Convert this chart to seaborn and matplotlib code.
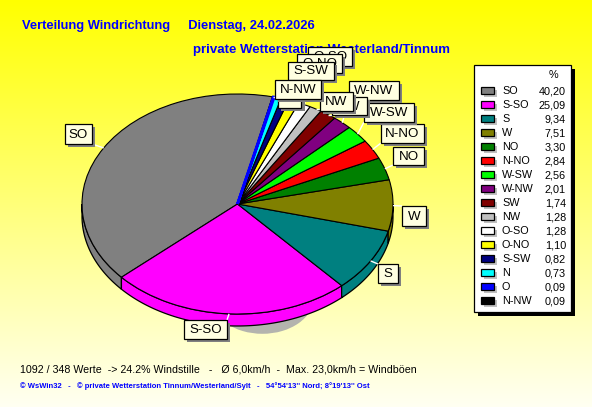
import numpy as np
import matplotlib
matplotlib.use("Agg")
import matplotlib.pyplot as plt
from matplotlib.patches import Rectangle, Polygon
import seaborn as sns

directions = ["SO", "S-SO", "S", "W", "NO", "N-NO", "W-SW", "W-NW", "SW", "NW",
              "O-SO", "O-NO", "S-SW", "N", "O", "N-NW"]
shares = [40.20, 25.09, 9.34, 7.51, 3.30, 2.84, 2.56, 2.01, 1.74, 1.28,
          1.28, 1.10, 0.82, 0.73, 0.09, 0.09]
share_labels = ["40,20", "25,09", "9,34", "7,51", "3,30", "2,84", "2,56", "2,01", "1,74", "1,28",
                "1,28", "1,10", "0,82", "0,73", "0,09", "0,09"]
slice_colors = ["#808080", "#FF00FF", "#008080", "#808000", "#008000", "#FF0000", "#00FF00", "#800080",
                "#800000", "#C0C0C0", "#FFFFFF", "#FFFF00", "#000080", "#00FFFF", "#0000FF", "#000000"]
# label boxes: left, top, right, bottom in pixels
label_boxes = [(65, 124, 92, 144), (184, 320, 227, 339), (378, 264, 398, 283), (402, 206, 426, 226),
               (393, 147, 424, 165), (381, 124, 424, 143), (364, 103, 414, 122), (349, 81, 399, 100),
               (332, 97, 367, 115), (320, 92, 353, 111), (308, 47, 352, 66), (297, 54, 342, 73),
               (288, 62, 334, 80), (280, 90, 302, 108), (278, 90, 301, 108), (275, 80, 321, 99)]

W, H = 592, 407
CX, CY, RX, RY, DEPTH = 237.5, 204, 155.5, 110, 12
START = 77

sns.set_theme(style="white")
plt.rcParams["font.family"] = ["Liberation Sans", "DejaVu Sans"]
palette = sns.color_palette(slice_colors)

fig = plt.figure(figsize=(W / 100, H / 100), dpi=100)

# background and plain texts
bg = fig.add_axes([0, 0, 1, 1], zorder=0)
bg.set_xlim(0, W); bg.set_ylim(H, 0); bg.axis("off")
grad = np.ones((H, 1, 3))
grad[:, 0, 2] = np.linspace(0, 0.95, H)
bg.imshow(grad, extent=(0, W, H, 0), aspect="auto", zorder=0)
bg.set_xlim(0, W); bg.set_ylim(H, 0)
blue = "#0000FF"
bg.text(22, 26, "Verteilung Windrichtung     Dienstag, 24.02.2026", color=blue, fontsize=9.3,
        fontweight="bold", va="center", ha="left")
bg.text(193, 49.5, "private Wetterstation Westerland/Tinnum", color=blue, fontsize=9.5,
        fontweight="bold", va="center", ha="left")
bg.text(20, 369, "1092 / 348 Werte  -> 24.2% Windstille   -   Ø 6,0km/h  -  Max. 23,0km/h = Windböen",
        color="black", fontsize=7.7, va="center", ha="left")
bg.text(20, 386, "© WsWin32   -   © private Wetterstation Tinnum/Westerland/Sylt   -   "
        "54°54'13'' Nord; 8°19'13'' Ost", color=blue, fontsize=5.5, fontweight="bold",
        va="center", ha="left")

# pie: squeezed axes give the tilted ellipse
pie_ax = fig.add_axes([(CX - RX) / W, 1 - (CY + RY) / H, 2 * RX / W, 2 * RY / H], zorder=1)
pie_ax.patch.set_alpha(0)
depth = DEPTH / RY

# soft shadow below the pie
pie_ax.pie([1], colors=["#B4B4AE"], center=(0.16, -0.85), radius=0.33,
           wedgeprops=dict(clip_on=False, linewidth=0, zorder=1))

# side wall, from the same slice angles
edges = START + np.cumsum([0] + shares) * 3.6
for a0, a1, col in zip(edges[:-1], edges[1:], palette):
    lo, hi = max(a0, 180), min(a1, 360)
    if hi <= lo:
        continue
    t = np.radians(np.linspace(lo, hi, 80))
    x, y = np.cos(t), np.sin(t)
    pts = np.r_[np.c_[x, y], np.c_[x, y - depth][::-1]]
    pie_ax.add_patch(Polygon(pts, closed=True, facecolor=col, edgecolor="black", lw=0.9,
                             clip_on=False, zorder=2))

wedges, _ = pie_ax.pie(shares, colors=palette, startangle=START, counterclock=True,
                       wedgeprops=dict(edgecolor="black", linewidth=0.8, clip_on=False, zorder=3))
# the hair-thin "O" slice stays visible as a coloured rim, as in the reference
wedges[directions.index("O")].set(edgecolor=palette[directions.index("O")], linewidth=2, zorder=4)
pie_ax.set_aspect("auto")
pie_ax.set_xlim(-1, 1); pie_ax.set_ylim(-1, 1)
pie_ax.axis("off")

# overlay in pixel coordinates: labels and legend
ov = fig.add_axes([0, 0, 1, 1], zorder=2)
ov.patch.set_alpha(0)
ov.set_xlim(0, W); ov.set_ylim(H, 0); ov.axis("off")

mids = (edges[:-1] + edges[1:]) / 2
z = 5
for name, (l, t, r, b), m in zip(directions, label_boxes, mids):
    ex = CX + RX * np.cos(np.radians(m))
    ey = CY - RY * np.sin(np.radians(m))
    tx = min(max(ex, l), r)
    ty = min(max(ey, t), b)
    ov.plot([ex, tx], [ey, ty], color="white", lw=1, zorder=4, solid_capstyle="butt")
    ov.add_patch(Rectangle((l + 3, t + 3), r - l, b - t, facecolor="#808080", edgecolor="none", zorder=z))
    ov.add_patch(Rectangle((l, t), r - l, b - t, facecolor="#FFFFE1", edgecolor="black", lw=0.9, zorder=z + 0.1))
    ov.text((l + r) / 2, (t + b) / 2 + 0.5, name, fontsize=9.6, color="black", ha="center", va="center",
            zorder=z + 0.2)
    z += 1

# legend
ov.add_patch(Rectangle((478, 69), 97, 247, facecolor="black", edgecolor="none", zorder=40))
ov.add_patch(Rectangle((474, 65), 97, 247, facecolor="white", edgecolor="black", lw=0.9, zorder=41))
ov.text(553, 75, "%", fontsize=7.8, color="black", ha="center", va="center", zorder=42)
for i, (name, val, col) in enumerate(zip(directions, share_labels, palette)):
    y = 91 + i * 14
    ov.add_patch(Rectangle((484, y - 1), 13, 7, facecolor="#C0C0C0", edgecolor="none", zorder=42))
    ov.add_patch(Rectangle((481, y - 4), 13, 7, facecolor=col, edgecolor="black", lw=0.9, zorder=43))
    ov.text(502, y, name, fontsize=7.8, color="black", ha="left", va="center", zorder=43)
    ov.text(566, y, val, fontsize=7.8, color="black", ha="right", va="center", zorder=43)

fig.savefig("out.png", dpi=100)
